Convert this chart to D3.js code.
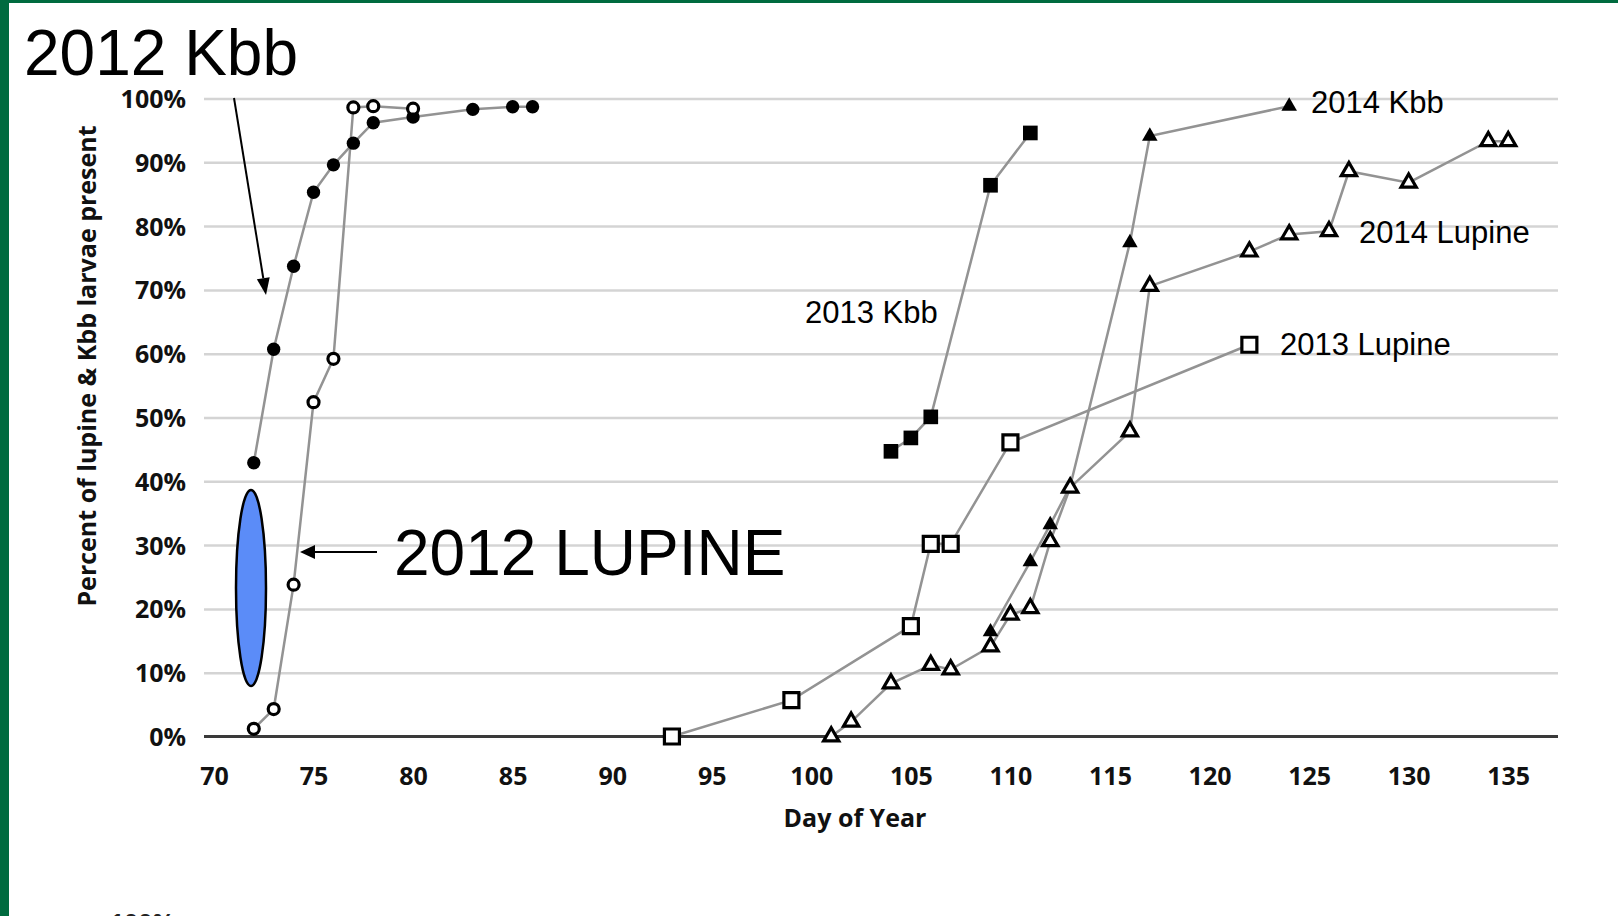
<!DOCTYPE html>
<html><head><meta charset="utf-8">
<script src="https://cdn.jsdelivr.net/npm/d3@7"></script>
<style>body{margin:0;background:#fff;overflow:hidden}</style>
</head><body><svg id="c" width="1618" height="916"></svg>
<script>
// ---- data ----
const xTicks = [70,75,80,85,90,95,100,105,110,115,120,125,130,135];
const yTicks = [0,0.1,0.2,0.3,0.4,0.5,0.6,0.7,0.8,0.9,1.0];

const kbb2012Day = [72,73,74,75,76,77,78,80,83,85,86];
const kbb2012Pct = [42.9,60.7,73.7,85.3,89.6,93.0,96.2,97.1,98.3,98.7,98.7];
const lup2012Day = [72,73,74,75,76,77,78,80];
const lup2012Pct = [1.2,4.3,23.8,52.4,59.2,98.6,98.8,98.4];
const kbb2013Day = [104,105,106,109,111];
const kbb2013Pct = [44.7,46.8,50.1,86.4,94.6];
const lup2013Day = [93,99,105,106,107,110,122];
const lup2013Pct = [0,5.7,17.3,30.2,30.2,46.1,61.4];
const kbb2014Day = [109,111,112,113,116,117,124];
const kbb2014Pct = [16.4,27.4,33.2,39.2,77.4,94.1,98.8];
const lup2014Day = [101,102,104,106,107,109,110,111,112,113,116,117,122,124,126,127,130,134,135];
const lup2014Pct = [0,2.3,8.3,11.2,10.5,14.1,19.1,20.1,30.6,39.0,47.8,70.6,76.0,78.7,79.2,88.6,86.8,93.3,93.3];

const seriesNames = ["2012 Kbb","2012 Lupine","2013 Kbb","2013 Lupine","2014 Kbb","2014 Lupine"];

// ---- setup ----
const svg = d3.select("#c");
svg.append("rect").attr("width",1618).attr("height",916).attr("fill","#fff");
svg.append("rect").attr("x",0).attr("y",0).attr("width",9).attr("height",916).attr("fill","#006B3F");
svg.append("rect").attr("x",0).attr("y",0).attr("width",1618).attr("height",3).attr("fill","#006B3F");

const x = d3.scaleLinear().domain([69.5,137.5]).range([204,1558]);
const y = d3.scaleLinear().domain([0,1]).range([736.5,98.5]);

const tickFont = "'Open Sans', sans-serif";

// gridlines
const grid = svg.append("g").attr("transform","translate(204,0)")
  .call(d3.axisLeft(y).tickValues(yTicks.slice(1)).tickSize(-(1558-204)).tickFormat(""));
grid.select(".domain").remove();
grid.selectAll(".tick line").attr("stroke","#d4d4d4").attr("stroke-width",2.5);

// baseline
svg.append("line").attr("x1",204).attr("x2",1558).attr("y1",y(0)).attr("y2",y(0))
  .attr("stroke","#3a3a3a").attr("stroke-width",3);

// y axis labels
const ya = svg.append("g").attr("transform","translate(186,0)")
  .call(d3.axisLeft(y).tickValues(yTicks).tickSize(0).tickPadding(0).tickFormat(d3.format(".0%")));
ya.select(".domain").remove();
ya.selectAll("text").attr("font-family",tickFont).attr("font-weight","bold")
  .attr("font-size",25).attr("fill","#111").attr("dy","0.36em");

// x axis labels
const xa = svg.append("g").attr("transform","translate(0,766)")
  .call(d3.axisBottom(x).tickValues(xTicks).tickSize(0).tickPadding(0).tickFormat(d3.format("d")));
xa.select(".domain").remove();
xa.selectAll("text").attr("font-family",tickFont).attr("font-weight","bold")
  .attr("font-size",25).attr("fill","#111").attr("dy","0.76em");

// axis titles
svg.append("text").attr("x",855).attr("y",827).attr("text-anchor","middle")
  .attr("font-family",tickFont).attr("font-weight","bold").attr("font-size",25).attr("fill","#111")
  .text("Day of Year");
svg.append("text").attr("transform","translate(96,366) rotate(-90)").attr("text-anchor","middle")
  .attr("font-family",tickFont).attr("font-weight","bold").attr("font-size",25).attr("fill","#111")
  .text("Percent of lupine & Kbb larvae present");

// ---- series ----
const series = [
  {name:seriesNames[0], d:kbb2012Day, p:kbb2012Pct, sym:d3.symbolCircle, size:140, open:false},
  {name:seriesNames[1], d:lup2012Day, p:lup2012Pct, sym:d3.symbolCircle, size:95, open:true},
  {name:seriesNames[2], d:kbb2013Day, p:kbb2013Pct, sym:d3.symbolSquare, size:215, open:false},
  {name:seriesNames[3], d:lup2013Day, p:lup2013Pct, sym:d3.symbolSquare, size:225, open:true},
  {name:seriesNames[4], d:kbb2014Day, p:kbb2014Pct, sym:d3.symbolTriangle, size:105, open:false},
  {name:seriesNames[5], d:lup2014Day, p:lup2014Pct, sym:d3.symbolTriangle, size:100, open:true}
];
const line = d3.line().x(d=>x(d[0])).y(d=>y(d[1]/100));
series.forEach(s=>{
  const pts = s.d.map((d,i)=>[d,s.p[i]]);
  svg.append("path").datum(pts).attr("d",line).attr("fill","none")
    .attr("stroke","#939393").attr("stroke-width",2.5);
});
series.forEach(s=>{
  const pts = s.d.map((d,i)=>[d,s.p[i]]);
  svg.append("g").selectAll("path").data(pts).join("path")
    .attr("transform",d=>`translate(${x(d[0])},${y(d[1]/100)})`)
    .attr("d",d3.symbol().type(s.sym).size(s.size))
    .attr("fill",s.open?"#fff":"#000")
    .attr("stroke",s.open?"#000":"none")
    .attr("stroke-width",s.open?3.2:0);
});

// ---- annotations ----
const big = "'Liberation Sans', Arial, sans-serif";
svg.append("text").attr("x",24).attr("y",75).attr("font-family",big).attr("font-size",64)
  .attr("fill","#000").text("2012 Kbb");
svg.append("text").attr("x",394).attr("y",575).attr("font-family",big).attr("font-size",64)
  .attr("fill","#000").text("2012 LUPINE");

function arrow(x1,y1,x2,y2,len,w){
  const a = Math.atan2(y2-y1,x2-x1);
  const bx = x2-len*Math.cos(a), by = y2-len*Math.sin(a);
  svg.append("line").attr("x1",x1).attr("y1",y1).attr("x2",bx).attr("y2",by)
    .attr("stroke","#000").attr("stroke-width",2);
  const px = -Math.sin(a)*w/2, py = Math.cos(a)*w/2;
  svg.append("polygon").attr("points",`${x2},${y2} ${bx+px},${by+py} ${bx-px},${by-py}`).attr("fill","#000");
}
arrow(234,98,266,295,17,13);
arrow(377,552,300,552,15,14);

svg.append("ellipse").attr("cx",251).attr("cy",588).attr("rx",15).attr("ry",98)
  .attr("fill","#5B8CF8").attr("stroke","#000").attr("stroke-width",2.5);

const lab = (t,xx,yy)=>svg.append("text").attr("x",xx).attr("y",yy).attr("font-family",big)
  .attr("font-size",31).attr("fill","#000").text(t);
lab("2013 Kbb",805,323);
lab("2014 Kbb",1311,113);
lab("2014 Lupine",1359,243);
lab("2013 Lupine",1280,355);

// partial label of a chart below (cut off)
svg.append("text").attr("x",175).attr("y",932).attr("text-anchor","end")
  .attr("font-family",tickFont).attr("font-weight","bold").attr("font-size",25).attr("fill","#222")
  .text("100%");
</script></body></html>
